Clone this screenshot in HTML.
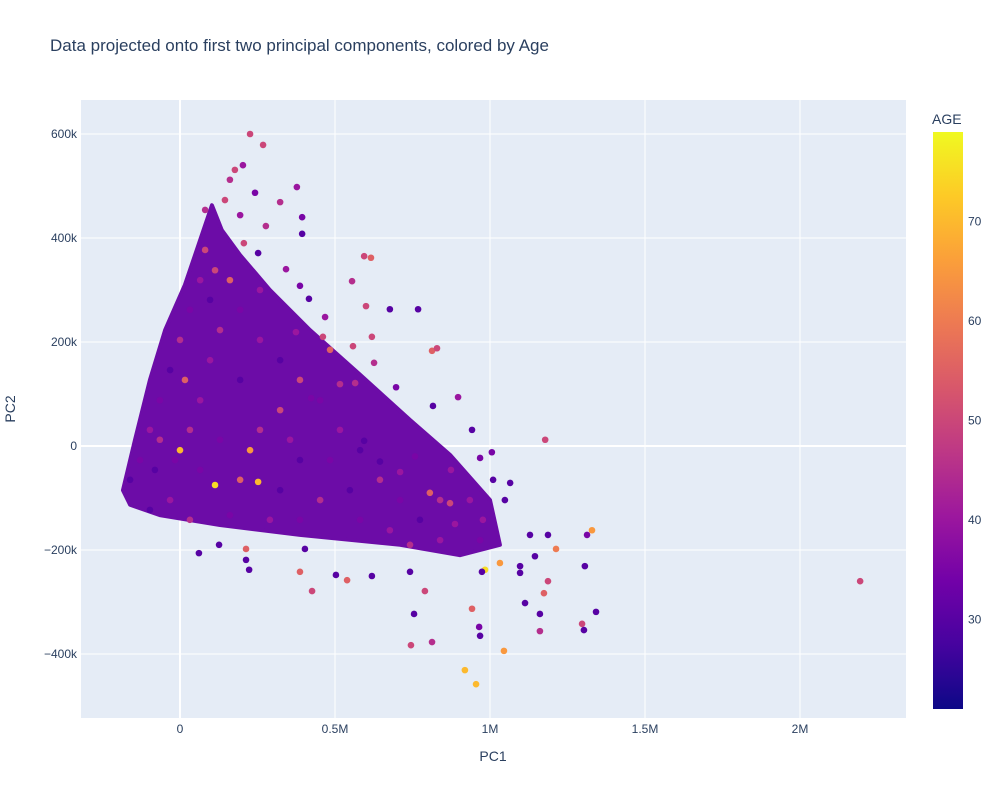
<!DOCTYPE html>
<html><head><meta charset="utf-8"><style>
body{margin:0;background:#fff;font-family:"Liberation Sans",sans-serif}
svg text{font-family:"Liberation Sans",sans-serif;fill:#2a3f5f}
</style></head><body>
<svg id="chart" width="1000" height="800">
<defs><linearGradient id="plasma" x1="0" y1="1" x2="0" y2="0">
<stop offset="0" stop-color="#0d0887"/><stop offset=".111" stop-color="#46039f"/><stop offset=".222" stop-color="#7201a8"/><stop offset=".333" stop-color="#9c179e"/><stop offset=".444" stop-color="#bd3786"/><stop offset=".556" stop-color="#d8576b"/><stop offset=".667" stop-color="#ed7953"/><stop offset=".778" stop-color="#fb9f3a"/><stop offset=".889" stop-color="#fdca26"/><stop offset="1" stop-color="#f0f921"/>
</linearGradient><clipPath id="clip"><rect x="81" y="100" width="825" height="618"/></clipPath></defs>
<text x="50" y="51" font-size="17">Data projected onto first two principal components, colored by Age</text>
<rect x="81" y="100" width="825" height="618" fill="#e5ecf6"/>
<g id="grid"></g><g id="marks" clip-path="url(#clip)"></g><g id="axes"></g>
<text x="493" y="761" font-size="14" text-anchor="middle">PC1</text>
<text x="15" y="409" font-size="14" text-anchor="middle" transform="rotate(-90 15 409)">PC2</text>
<text x="932" y="124" font-size="14">AGE</text>
<rect x="933" y="132" width="30" height="577" fill="url(#plasma)"/>
<g id="cbticks"></g>
</svg>
<script>
const xTicks=[0,500,1000,1500,2000];
const xTickLabels=["0","0.5M","1M","1.5M","2M"];
const yTicks=[-400,-200,0,200,400,600];
const yTickLabels=["−400k","−200k","0","200k","400k","600k"];
const cbTicks=[30,40,50,60,70];
const ageMin=21, ageMax=79;
// dense cloud outline (PC1 k, PC2 k)
const hullX=[-184,-145,-97,-48,16,65,103,135,194,290,419,581,742,871,1000,1032,903,710,387,129,-65,-161];
const hullY=[-85,12,127,223,310,396,463,415,367,300,223,137,50,-17,-104,-190,-210,-190,-171,-152,-133,-113];
const pcX=[226,268,203,242,377,323,394,277,206,394,252,342,387,416,468,594,555,600,677,768,619,558,626,697,813,829,816,897,942,1178,1006,968,874,1010,1065,977,1048,1129,1187,1213,1329,1313,1145,1306,1097,1187,1174,1113,1297,1303,1342,1161,1161,1045,965,968,919,955,813,745,942,755,984,974,1032,1097,790,742,619,539,503,426,387,213,223,213,61,126,403,423,565,461,616,374,484,516,594,710,806,758,871,887,645,
-161,-129,-97,-65,-32,0,32,65,81,97,129,161,194,258,323,387,452,516,581,645,710,774,839,581,452,323,194,65,-32,-97,32,161,290,387,258,129,0,65,194,323,484,226,113,252,-16,-81,32,97,16,-65,355,548,677,742,387,
2194,81,145,161,194,113,258,177,935,968,839];
const pcY=[600,579,540,487,498,469,440,423,390,408,371,340,308,283,248,365,317,269,263,263,210,192,160,113,183,188,77,94,31,12,-12,-23,-46,-65,-71,-142,-104,-171,-171,-198,-162,-171,-212,-231,-231,-260,-283,-302,-342,-354,-319,-323,-356,-394,-348,-365,-431,-458,-377,-383,-313,-323,-238,-242,-225,-244,-279,-242,-250,-258,-248,-279,-242,-219,-238,-198,-206,-190,-198,92,121,210,362,219,185,119,10,-50,-90,-20,-110,-150,-30,
-65,-27,31,88,146,204,262,319,377,281,223,319,262,204,165,127,88,31,-8,-65,-104,-142,-181,-142,-104,-85,-65,-46,-104,-123,-142,-133,-142,-27,31,12,-8,88,127,69,-27,-8,-75,-69,-27,-46,31,165,127,12,12,-85,-162,-190,-142,
-260,454,473,512,444,338,300,531,-104,-181,-104];
const ages=[50,50,40,35,40,45,35,45,50,30,30,40,35,30,40,50,45,50,30,30,50,50,45,35,55,50,30,40,30,50,35,35,40,30,30,40,30,30,30,60,65,35,30,30,30,50,55,30,50,30,30,30,45,65,35,30,70,70,45,50,55,30,75,30,65,30,50,30,30,55,30,50,55,30,30,55,30,30,30,35,45,50,55,40,55,45,30,40,55,35,50,40,30,
30,35,40,35,30,45,35,40,50,30,45,55,35,40,30,50,35,40,30,45,35,30,40,35,45,30,55,35,40,30,45,35,40,30,45,35,70,40,30,50,35,65,75,70,35,30,45,40,55,45,40,30,40,45,35,
50,45,50,45,40,50,40,50,40,35,45];
const X=v=>180+v*0.31, Y=v=>446-v*0.52;
const plasma=["#0d0887","#46039f","#7201a8","#9c179e","#bd3786","#d8576b","#ed7953","#fb9f3a","#fdca26","#f0f921"];
function hx(c){return [1,3,5].map(i=>parseInt(c.substr(i,2),16));}
function color(a){let t=Math.max(0,Math.min(1,(a-ageMin)/(ageMax-ageMin)))*9;let i=Math.min(8,Math.floor(t)),f=t-i;
 const A=hx(plasma[i]),B=hx(plasma[i+1]);return "rgb("+A.map((v,k)=>Math.round(v+(B[k]-v)*f)).join(",")+")";}
const NS="http://www.w3.org/2000/svg";
function mk(tag,attrs,parent){const e=document.createElementNS(NS,tag);for(const k in attrs)e.setAttribute(k,attrs[k]);parent.appendChild(e);return e;}
const grid=document.getElementById('grid'),axes=document.getElementById('axes'),marks=document.getElementById('marks'),cb=document.getElementById('cbticks');
xTicks.forEach((v,i)=>{const l=mk('line',{x1:X(v),x2:X(v),y1:100,y2:718,stroke:'#fff','stroke-width':v===0?2:1},grid);


const t=mk('text',{x:X(v),y:733,'font-size':12,'text-anchor':'middle'},axes);t.textContent=xTickLabels[i];

});
yTicks.forEach((v,i)=>{const l=mk('line',{x1:81,x2:906,y1:Y(v),y2:Y(v),stroke:'#fff','stroke-width':v===0?2:1},grid);


const t=mk('text',{x:77,y:Y(v)+4,'font-size':12,'text-anchor':'end'},axes);t.textContent=yTickLabels[i];

});
const hull=mk('polygon',{points:hullX.map((x,i)=>X(x)+","+Y(hullY[i])).join(" "),fill:'#6c0ca7',stroke:'#6c0ca7','stroke-width':4,'stroke-linejoin':'round'},marks);


pcX.forEach((x,i)=>{const c=mk('circle',{cx:X(x),cy:Y(pcY[i]),r:3.3,fill:color(ages[i])},marks);

});
cbTicks.forEach(v=>{const y=709-(v-ageMin)/(ageMax-ageMin)*577;const t=mk('text',{x:968,y:y+4,'font-size':12},cb);t.textContent=v;

});
</script>
</body></html>
